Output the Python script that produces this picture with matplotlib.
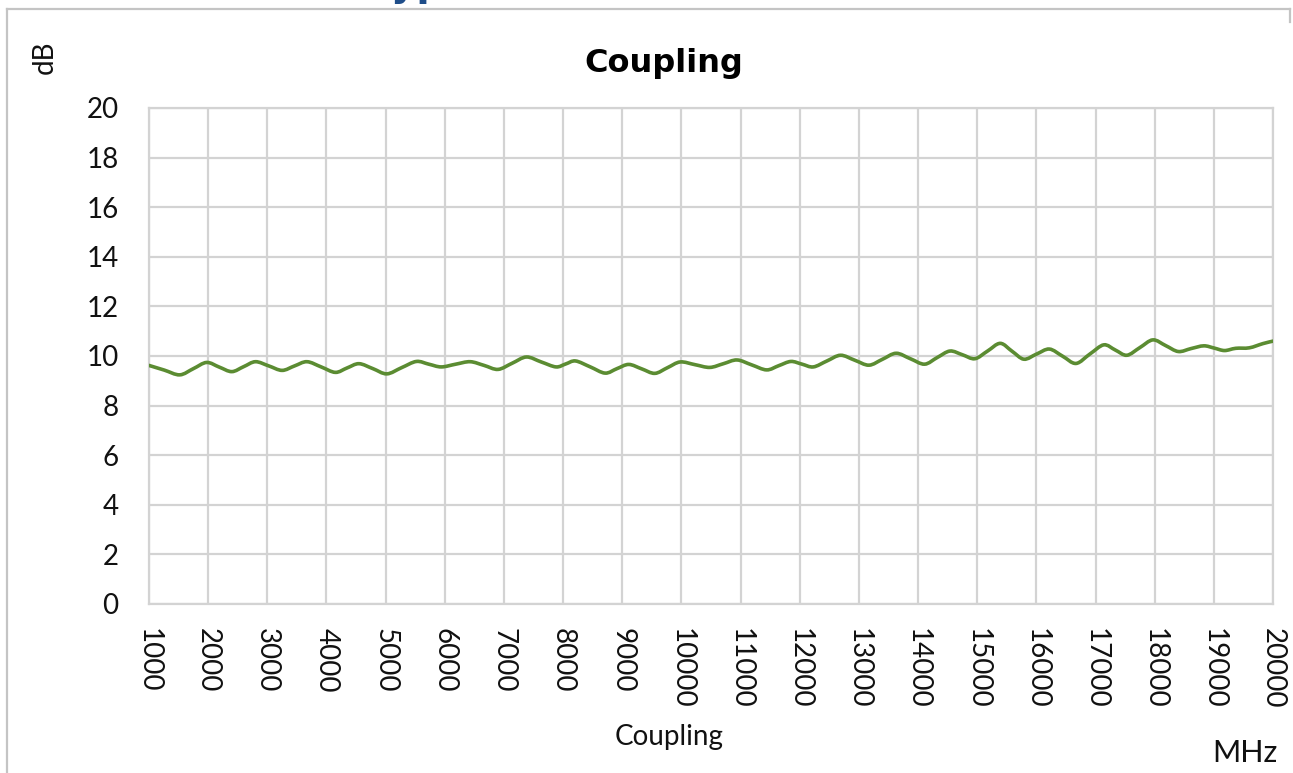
"""Coupling vs frequency chart (dB over MHz)."""

import matplotlib

matplotlib.use("Agg")
import matplotlib.pyplot as plt
import numpy as np
from matplotlib.lines import Line2D
from matplotlib.path import Path
from matplotlib.patches import PathPatch

# values
freq_mhz = [
    1000, 1260, 1520, 1750, 1975, 2190, 2400, 2600, 2800, 3025,
    3250, 3460, 3670, 3910, 4150, 4350, 4550, 4785, 5020, 5270,
    5520, 5730, 5940, 6185, 6430, 6665, 6900, 7140, 7380, 7630,
    7880, 8045, 8210, 8460, 8710, 8910, 9110, 9330, 9550, 9765,
    9980, 10230, 10480, 10710, 10940, 11190, 11440, 11645, 11850, 12040,
    12230, 12460, 12690, 12930, 13170, 13400, 13630, 13870, 14110, 14325,
    14540, 14750, 14960, 15175, 15390, 15590, 15790, 16005, 16220, 16445,
    16670, 16905, 17140, 17335, 17530, 17750, 17970, 18185, 18400, 18615,
    18830, 19005, 19180, 19370, 19600, 19830, 20000,
]
coupling_db = [
    9.62, 9.43, 9.24, 9.49, 9.74, 9.55, 9.37, 9.57, 9.77, 9.60,
    9.42, 9.60, 9.77, 9.56, 9.34, 9.52, 9.69, 9.49, 9.28, 9.53,
    9.78, 9.67, 9.56, 9.67, 9.77, 9.62, 9.46, 9.71, 9.96, 9.76,
    9.56, 9.68, 9.80, 9.56, 9.31, 9.49, 9.66, 9.48, 9.30, 9.53,
    9.76, 9.65, 9.54, 9.69, 9.84, 9.64, 9.44, 9.61, 9.78, 9.67,
    9.56, 9.80, 10.03, 9.83, 9.63, 9.87, 10.11, 9.89, 9.67, 9.94,
    10.20, 10.05, 9.89, 10.20, 10.51, 10.19, 9.87, 10.08, 10.28, 9.99,
    9.70, 10.08, 10.45, 10.24, 10.03, 10.34, 10.65, 10.42, 10.18, 10.30,
    10.41, 10.32, 10.22, 10.31, 10.33, 10.50, 10.60,
]

x_ticks = list(range(1000, 20001, 1000))
y_ticks = list(range(0, 21, 2))

W, H = 1293, 773
GRID = "#d3d3d3"
LINE = "#5b8c32"


def smooth_path(xs, ys):
    """Excel-style smoothed line: cubic Bezier through every point."""
    p = np.column_stack([xs, ys]).astype(float)
    ext = np.vstack([p[0], p, p[-1]])
    verts = [p[0]]
    codes = [Path.MOVETO]
    for i in range(len(p) - 1):
        c1 = ext[i + 1] + (ext[i + 2] - ext[i]) / 6
        c2 = ext[i + 2] - (ext[i + 3] - ext[i + 1]) / 6
        verts += [c1, c2, p[i + 1]]
        codes += [Path.CURVE4] * 3
    return Path(verts, codes)


fig = plt.figure(figsize=(W / 100, H / 100), dpi=100)
ax = fig.add_axes([149 / W, 1 - 604 / H, (1273 - 149) / W, (604 - 108) / H])

ax.add_patch(PathPatch(smooth_path(freq_mhz, coupling_db), fill=False,
                       edgecolor=LINE, lw=2.6, joinstyle="round",
                       capstyle="round", zorder=3))

ax.set_xlim(1000, 20000)
ax.set_ylim(0, 20)
ax.set_xticks(x_ticks)
ax.set_yticks(y_ticks)
ax.set_xticklabels([str(v) for v in x_ticks], rotation=270,
                   fontfamily="Lato", fontsize=20, color="#111111")
ax.set_yticklabels([str(v) for v in y_ticks],
                   fontfamily="Lato", fontsize=20, color="#111111")
ax.tick_params(axis="both", length=0)
ax.tick_params(axis="x", pad=17)
ax.tick_params(axis="y", pad=22)
ax.grid(True, color=GRID, lw=1.6, zorder=0)
for sp in ax.spines.values():
    sp.set_color(GRID)
    sp.set_linewidth(1.6)

# texts around the plot
fig.text(664 / W, 1 - 72 / H, "Coupling", ha="center", va="baseline",
         fontsize=23, fontweight="bold", family="DejaVu Sans")
fig.text(45 / W, 1 - 57 / H, "dB", ha="center", va="center", rotation=90,
         fontfamily="Lato", fontsize=20, color="#111111")
fig.text(669 / W, 1 - 745 / H, "Coupling", ha="center", va="baseline",
         fontfamily="Lato", fontsize=20, color="#111111")
fig.text(1278 / W, 1 - 762 / H, "MHz", ha="right", va="baseline",
         fontfamily="Lato", fontsize=22, color="#111111")

# heading of the page above, cut off by the crop
fig.text(369 / W, 1 + 4 / H, "Typical Performance", ha="left", va="baseline",
         fontsize=28, fontweight="bold", color="#1f4e8a", family="DejaVu Sans")

# outer frame (top, left, short right edge)
frame = dict(color="#c4c4c4", lw=1.6, transform=fig.transFigure)
fig.add_artist(Line2D([7 / W, 1290 / W], [1 - 9 / H, 1 - 9 / H], **frame))
fig.add_artist(Line2D([7 / W, 7 / W], [0, 1 - 9 / H], **frame))
fig.add_artist(Line2D([1290 / W, 1290 / W], [1 - 22 / H, 1 - 9 / H], **frame))

fig.savefig("out.png", dpi=100)
